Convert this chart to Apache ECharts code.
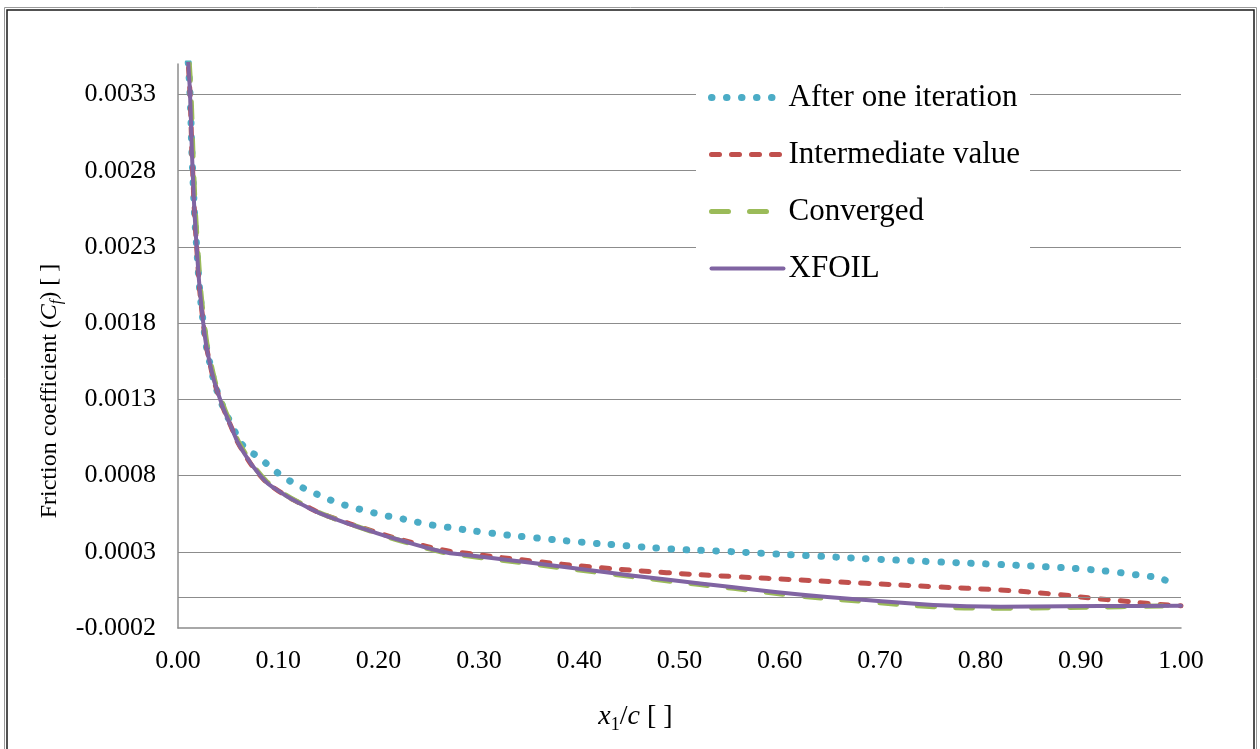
<!DOCTYPE html>
<html>
<head>
<meta charset="utf-8">
<script src="https://cdn.jsdelivr.net/npm/echarts@6/dist/echarts.min.js"></script>
<style>
html,body{margin:0;padding:0;background:#fff;}
#chart{width:1260px;height:749px;}
</style>
</head>
<body>
<div id="chart"></div>
<script>
// ---- data ----
const seriesNames = ['After one iteration', 'Intermediate value', 'Converged', 'XFOIL'];

const oneIterX = [0.006, 0.0103, 0.012, 0.0146, 0.0186, 0.0252, 0.033, 0.042, 0.053, 0.0668, 0.080, 0.0917, 0.104, 0.117, 0.131, 0.145, 0.159, 0.174, 0.188, 0.204, 0.218, 0.248, 0.2645, 0.309, 0.354, 0.401, 0.447, 0.492, 0.539, 0.583, 0.630, 0.6915, 0.753, 0.8146, 0.876, 0.906, 0.936, 0.952, 0.967, 0.982, 0.9957];
const oneIterCf = [0.0040, 0.0035, 0.0033, 0.0028, 0.0023, 0.0018, 0.0015, 0.0013, 0.00114, 0.00098, 0.000924, 0.000858, 0.000797, 0.000745, 0.000700, 0.000660, 0.000622, 0.000592, 0.000568, 0.000541, 0.000524, 0.000482, 0.000465, 0.000425, 0.000393, 0.000364, 0.000340, 0.000318, 0.000305, 0.000290, 0.000274, 0.000253, 0.000235, 0.000218, 0.000198, 0.000185, 0.000166, 0.000152, 0.000141, 0.000120, 0.000071];

const interX = [0.006, 0.0103, 0.012, 0.0146, 0.0186, 0.0252, 0.033, 0.042, 0.053, 0.062, 0.082, 0.100, 0.128, 0.150, 0.198, 0.221, 0.264, 0.288, 0.354, 0.421, 0.487, 0.554, 0.620, 0.686, 0.753, 0.820, 0.872, 0.9125, 0.939, 0.965, 1.000];
const interCf = [0.0040, 0.0035, 0.0033, 0.0028, 0.0023, 0.0018, 0.0015, 0.0013, 0.00112, 0.00099, 0.00080, 0.00070, 0.000598, 0.000533, 0.000428, 0.000382, 0.000312, 0.000290, 0.000239, 0.000196, 0.000163, 0.000137, 0.000115, 0.000093, 0.000071, 0.000049, 0.000023, -0.000005, -0.000021, -0.000038, -0.000054];

const convX = [0.007, 0.0113, 0.013, 0.0156, 0.0196, 0.0262, 0.034, 0.043, 0.054, 0.063, 0.083, 0.101, 0.129, 0.151, 0.199, 0.221, 0.264, 0.288, 0.354, 0.421, 0.487, 0.554, 0.620, 0.686, 0.753, 0.820, 0.886, 0.940, 1.000];
const convCf = [0.0040, 0.0035, 0.0033, 0.0028, 0.0023, 0.0018, 0.0015, 0.0013, 0.00112, 0.00099, 0.00080, 0.00070, 0.000596, 0.000530, 0.000421, 0.000374, 0.000297, 0.000274, 0.000219, 0.000163, 0.000110, 0.000060, 0.000010, -0.000027, -0.000060, -0.000070, -0.000066, -0.000060, -0.000054];

const xfoilX = [0.006, 0.0103, 0.012, 0.0146, 0.0186, 0.0252, 0.033, 0.042, 0.053, 0.062, 0.082, 0.100, 0.128, 0.150, 0.198, 0.221, 0.264, 0.288, 0.354, 0.421, 0.487, 0.554, 0.620, 0.686, 0.753, 0.820, 0.886, 0.952, 1.000];
const xfoilCf = [0.0040, 0.0035, 0.0033, 0.0028, 0.0023, 0.0018, 0.0015, 0.0013, 0.00112, 0.00099, 0.00080, 0.00070, 0.000596, 0.000530, 0.000423, 0.000377, 0.000300, 0.000279, 0.000226, 0.000170, 0.000118, 0.000068, 0.000020, -0.000016, -0.000049, -0.000060, -0.000058, -0.000055, -0.000054];

const yTicks = [-0.0002, 0.0003, 0.0008, 0.0013, 0.0018, 0.0023, 0.0028, 0.0033];
const xTickLabels = ['0.00','0.10','0.20','0.30','0.40','0.50','0.60','0.70','0.80','0.90','1.00'];

// ---- chart ----
const pairs = (xs, ys) => xs.map((x, i) => [x, ys[i]]);
const FONT = '"Liberation Serif", "Times New Roman", serif';

const styles = [
  {color: '#4bacc6', width: 7, type: [0.5, 14.5], cap: 'round', join: 'round'},
  {color: '#c0504d', width: 5, type: [8, 12], cap: 'round', join: 'round'},
  {color: '#9bbb59', width: 5, type: [17, 21], cap: 'round', join: 'round'},
  {color: '#8064a2', width: 4, type: 'solid', cap: 'round', join: 'round'}
];

const chart = echarts.init(document.getElementById('chart'), null, {renderer: 'canvas'});

const common = {
  type: 'line', showSymbol: false, symbol: 'none', smooth: 0.5,
  clip: true, silent: true, animation: false
};

const option = {
  backgroundColor: '#ffffff',
  animation: false,
  graphic: [
    {type: 'rect', silent: true, shape: {x: 4.5, y: 7.5, width: 1252, height: 760}, style: {fill: 'none', stroke: '#9a9a9a', lineWidth: 1}},
    {type: 'rect', silent: true, shape: {x: 7, y: 10, width: 1247, height: 760}, style: {fill: 'none', stroke: '#1a1a1a', lineWidth: 1.5}}
  ],
  grid: {left: 178, right: 79, top: 64, bottom: 121, containLabel: false},
  legend: {
    orient: 'vertical', left: 696, top: 76,
    padding: [6, 10, 6, 12],
    backgroundColor: '#ffffff',
    itemWidth: 72, itemHeight: 14, itemGap: 26,
    textStyle: {fontFamily: FONT, fontSize: 31, color: '#000', lineHeight: 31},
    data: seriesNames.map((n, i) => ({
      name: n,
      itemStyle: {opacity: 0},
      lineStyle: Object.assign({}, styles[i])
    }))
  },
  xAxis: {
    type: 'value', min: 0, max: 1, interval: 0.1,
    axisLine: {show: true, onZero: false, lineStyle: {color: '#8c8c8c', width: 1.5}},
    axisTick: {show: false},
    splitLine: {show: false},
    axisLabel: {
      margin: 20, fontFamily: FONT, fontSize: 26, color: '#000',
      formatter: v => xTickLabels[Math.round(v * 10)]
    },
    name: '{i|x}{s|1}{n|/}{i|c}{n| [ ]}',
    nameLocation: 'middle', nameGap: 72,
    nameTextStyle: {
      padding: [0, 88, 0, 0],
      rich: {
        i: {fontFamily: FONT, fontSize: 28, fontStyle: 'italic', color: '#000', lineHeight: 34},
        n: {fontFamily: FONT, fontSize: 28, color: '#000', lineHeight: 34},
        s: {fontFamily: FONT, fontSize: 18, color: '#000', lineHeight: 18, verticalAlign: 'bottom'}
      }
    }
  },
  yAxis: {
    type: 'value', min: -0.0002, max: 0.0035, interval: 0.0005,
    axisLine: {show: true, lineStyle: {color: '#8c8c8c', width: 1.5}},
    axisTick: {show: false},
    splitLine: {show: true, showMinLine: false, showMaxLine: false, lineStyle: {color: '#8c8c8c', width: 1.2}},
    axisLabel: {
      margin: 22, fontFamily: FONT, fontSize: 26, color: '#000', showMaxLabel: false,
      formatter: v => {
        const k = yTicks.findIndex(t => Math.abs(t - v) < 1e-9);
        return k >= 0 ? yTicks[k].toFixed(4) : '';
      }
    },
    name: '{n|Friction coefficient (}{i|C}{s|f}{n|) [ ]}',
    nameLocation: 'middle', nameRotate: 90, nameGap: 112,
    nameTextStyle: {
      padding: [0, 90, 0, 0],
      rich: {
        i: {fontFamily: FONT, fontSize: 24, fontStyle: 'italic', color: '#000', lineHeight: 30},
        n: {fontFamily: FONT, fontSize: 24, color: '#000', lineHeight: 30},
        s: {fontFamily: FONT, fontSize: 16, fontStyle: 'italic', color: '#000', lineHeight: 16, verticalAlign: 'bottom'}
      }
    }
  },
  series: [
    Object.assign({}, common, {
      name: seriesNames[0], data: pairs(oneIterX, oneIterCf), z: 2,
      lineStyle: styles[0], itemStyle: {color: styles[0].color},
      markLine: {
        silent: true, symbol: ['none', 'none'], animation: false,
        label: {show: false},
        lineStyle: {color: '#8c8c8c', width: 1.2, type: 'solid'},
        data: [{yAxis: 0}]
      }
    }),
    Object.assign({}, common, {
      name: seriesNames[1], data: pairs(interX, interCf), z: 3,
      lineStyle: styles[1], itemStyle: {color: styles[1].color}
    }),
    Object.assign({}, common, {
      name: seriesNames[2], data: pairs(convX, convCf), z: 4,
      lineStyle: styles[2], itemStyle: {color: styles[2].color}
    }),
    Object.assign({}, common, {
      name: seriesNames[3], data: pairs(xfoilX, xfoilCf), z: 5,
      lineStyle: styles[3], itemStyle: {color: styles[3].color}
    })
  ]
};
chart.setOption(option);
</script>
</body>
</html>
